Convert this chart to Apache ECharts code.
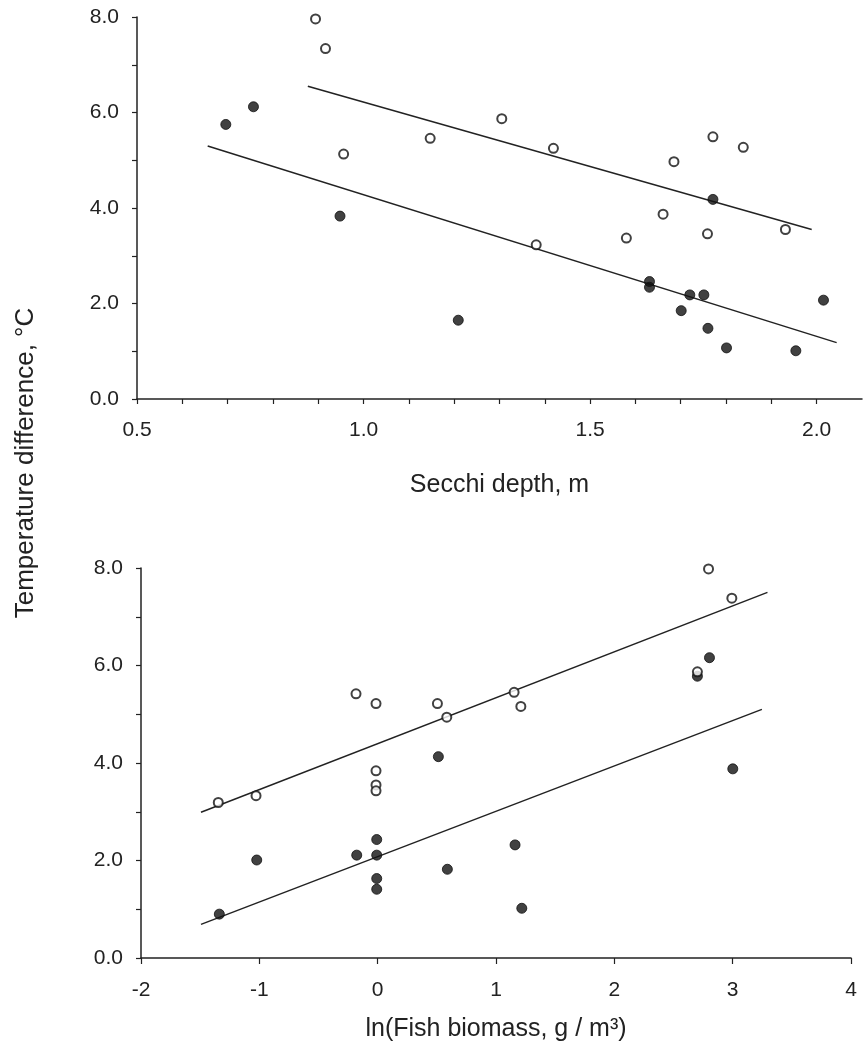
<!DOCTYPE html>
<html>
<head>
<meta charset="utf-8">
<script src="https://cdn.jsdelivr.net/npm/echarts@6/dist/echarts.min.js"></script>
<style>
html,body{margin:0;padding:0;background:#fff;}
#chart{width:865px;height:1055px;}
</style>
</head>
<body>
<div id="chart"></div>
<script>
// ---- Data ----
// Top panel: Secchi depth (m) vs temperature difference (°C)
var secchiOpen = [[0.894,7.96],[0.916,7.34],[0.956,5.13],[1.147,5.46],[1.305,5.87],[1.419,5.25],[1.381,3.23],[1.580,3.37],[1.661,3.87],[1.685,4.97],[1.759,3.46],[1.771,5.49],[1.838,5.27],[1.931,3.55]];
var secchiFilled = [[0.696,5.75],[0.757,6.12],[0.948,3.83],[1.209,1.65],[1.631,2.46],[1.631,2.34],[1.701,1.85],[1.720,2.18],[1.751,2.18],[1.760,1.48],[1.771,4.18],[1.801,1.07],[1.954,1.01],[2.015,2.07]];
var secchiOpenFit = [[0.877,6.55],[1.989,3.55]];
var secchiFilledFit = [[0.656,5.30],[2.044,1.18]];

// Bottom panel: ln(fish biomass) vs temperature difference (°C)
var fishOpen = [[-1.347,3.19],[-1.028,3.33],[-0.183,5.42],[-0.014,5.22],[-0.014,3.84],[-0.014,3.55],[-0.014,3.43],[0.505,5.22],[0.584,4.94],[1.153,5.45],[1.210,5.16],[2.702,5.87],[2.796,7.98],[2.993,7.38]];
var fishFilled = [[-1.338,0.90],[-1.022,2.01],[-0.177,2.11],[-0.008,2.43],[-0.008,2.11],[-0.008,1.63],[-0.008,1.41],[0.513,4.13],[0.589,1.82],[1.161,2.32],[1.218,1.02],[2.702,5.78],[2.804,6.16],[3.001,3.88]];
var fishOpenFit = [[-1.493,2.99],[3.294,7.50]];
var fishFilledFit = [[-1.493,0.69],[3.247,5.10]];

// Axis texts
var yAxisTitle = 'Temperature difference, °C';
var topXTitle = 'Secchi depth, m';
var bottomXTitle = 'ln(Fish biomass, g / m³)';

// ---- Chart ----
var INK = '#222';
var FONT = '"Liberation Sans", Arial, Helvetica, sans-serif';
var chart = echarts.init(document.getElementById('chart'), null, {renderer:'canvas'});

function yAxisCfg(gridIndex){
  return {
    type:'value', gridIndex:gridIndex, min:0, max:8, interval:1,
    splitLine:{show:false},
    axisLine:{show:true, onZero:false, lineStyle:{color:INK, width:1.5}},
    axisTick:{show:true, length:5, lineStyle:{color:INK, width:1.2}},
    axisLabel:{color:INK, fontFamily:FONT, fontSize:21, margin:18,
      formatter:function(v){ return (Math.round(v)%2===0) ? v.toFixed(1) : ''; }}
  };
}

var openStyle = {color:'#fff', borderColor:'#111', borderWidth:2};
var fillStyle = {color:'#111', borderColor:'#111', borderWidth:1};
var lineStyle = {color:INK, width:1.5};

var option = {
  backgroundColor:'#fff',
  animation:false,
  grid:[
    {left:137, top:17, width:725, height:382},
    {left:141, top:568, width:710, height:390}
  ],
  xAxis:[
    {
      type:'value', gridIndex:0, min:0.5, max:2.1, interval:0.1,
      name: topXTitle, nameLocation:'middle', nameGap:74,
      nameTextStyle:{color:INK, fontFamily:FONT, fontSize:25},
      splitLine:{show:false},
      axisLine:{show:true, onZero:false, lineStyle:{color:INK, width:1.5}},
      axisTick:{show:true, length:5, lineStyle:{color:INK, width:1.2}},
      axisLabel:{color:INK, fontFamily:FONT, fontSize:21, margin:21, showMaxLabel:false,
        formatter:function(v){ var t=v*2; return Math.abs(t-Math.round(t))<1e-6 ? v.toFixed(1) : ''; }}
    },
    {
      type:'value', gridIndex:1, min:-2, max:4, interval:1,
      name: bottomXTitle, nameLocation:'middle', nameGap:59,
      nameTextStyle:{color:INK, fontFamily:FONT, fontSize:25},
      splitLine:{show:false},
      axisLine:{show:true, onZero:false, lineStyle:{color:INK, width:1.5}},
      axisTick:{show:true, length:6, lineStyle:{color:INK, width:1.2}},
      axisLabel:{color:INK, fontFamily:FONT, fontSize:21, margin:22,
        formatter:function(v){ return String(Math.round(v)); }}
    }
  ],
  yAxis:[ yAxisCfg(0), yAxisCfg(1) ],
  graphic:[{
    type:'text',
    x:26, y:463, rotation:Math.PI/2,
    style:{text:yAxisTitle, fill:INK, font:'26px "Liberation Sans", Arial, sans-serif',
      textAlign:'center', textVerticalAlign:'middle'}
  }],
  series:[
    {type:'line', xAxisIndex:0, yAxisIndex:0, data:secchiOpenFit, symbol:'none', lineStyle:lineStyle, z:1, silent:true},
    {type:'line', xAxisIndex:0, yAxisIndex:0, data:secchiFilledFit, symbol:'none', lineStyle:lineStyle, z:1, silent:true},
    {type:'scatter', xAxisIndex:0, yAxisIndex:0, data:secchiFilled, symbol:'circle', symbolSize:10, itemStyle:fillStyle, z:2},
    {type:'scatter', xAxisIndex:0, yAxisIndex:0, data:secchiOpen, symbol:'circle', symbolSize:9, itemStyle:openStyle, z:3},
    {type:'line', xAxisIndex:1, yAxisIndex:1, data:fishOpenFit, symbol:'none', lineStyle:lineStyle, z:1, silent:true},
    {type:'line', xAxisIndex:1, yAxisIndex:1, data:fishFilledFit, symbol:'none', lineStyle:lineStyle, z:1, silent:true},
    {type:'scatter', xAxisIndex:1, yAxisIndex:1, data:fishFilled, symbol:'circle', symbolSize:10, itemStyle:fillStyle, z:2},
    {type:'scatter', xAxisIndex:1, yAxisIndex:1, data:fishOpen, symbol:'circle', symbolSize:9, itemStyle:openStyle, z:3}
  ]
};
chart.setOption(option);
</script>
</body>
</html>
